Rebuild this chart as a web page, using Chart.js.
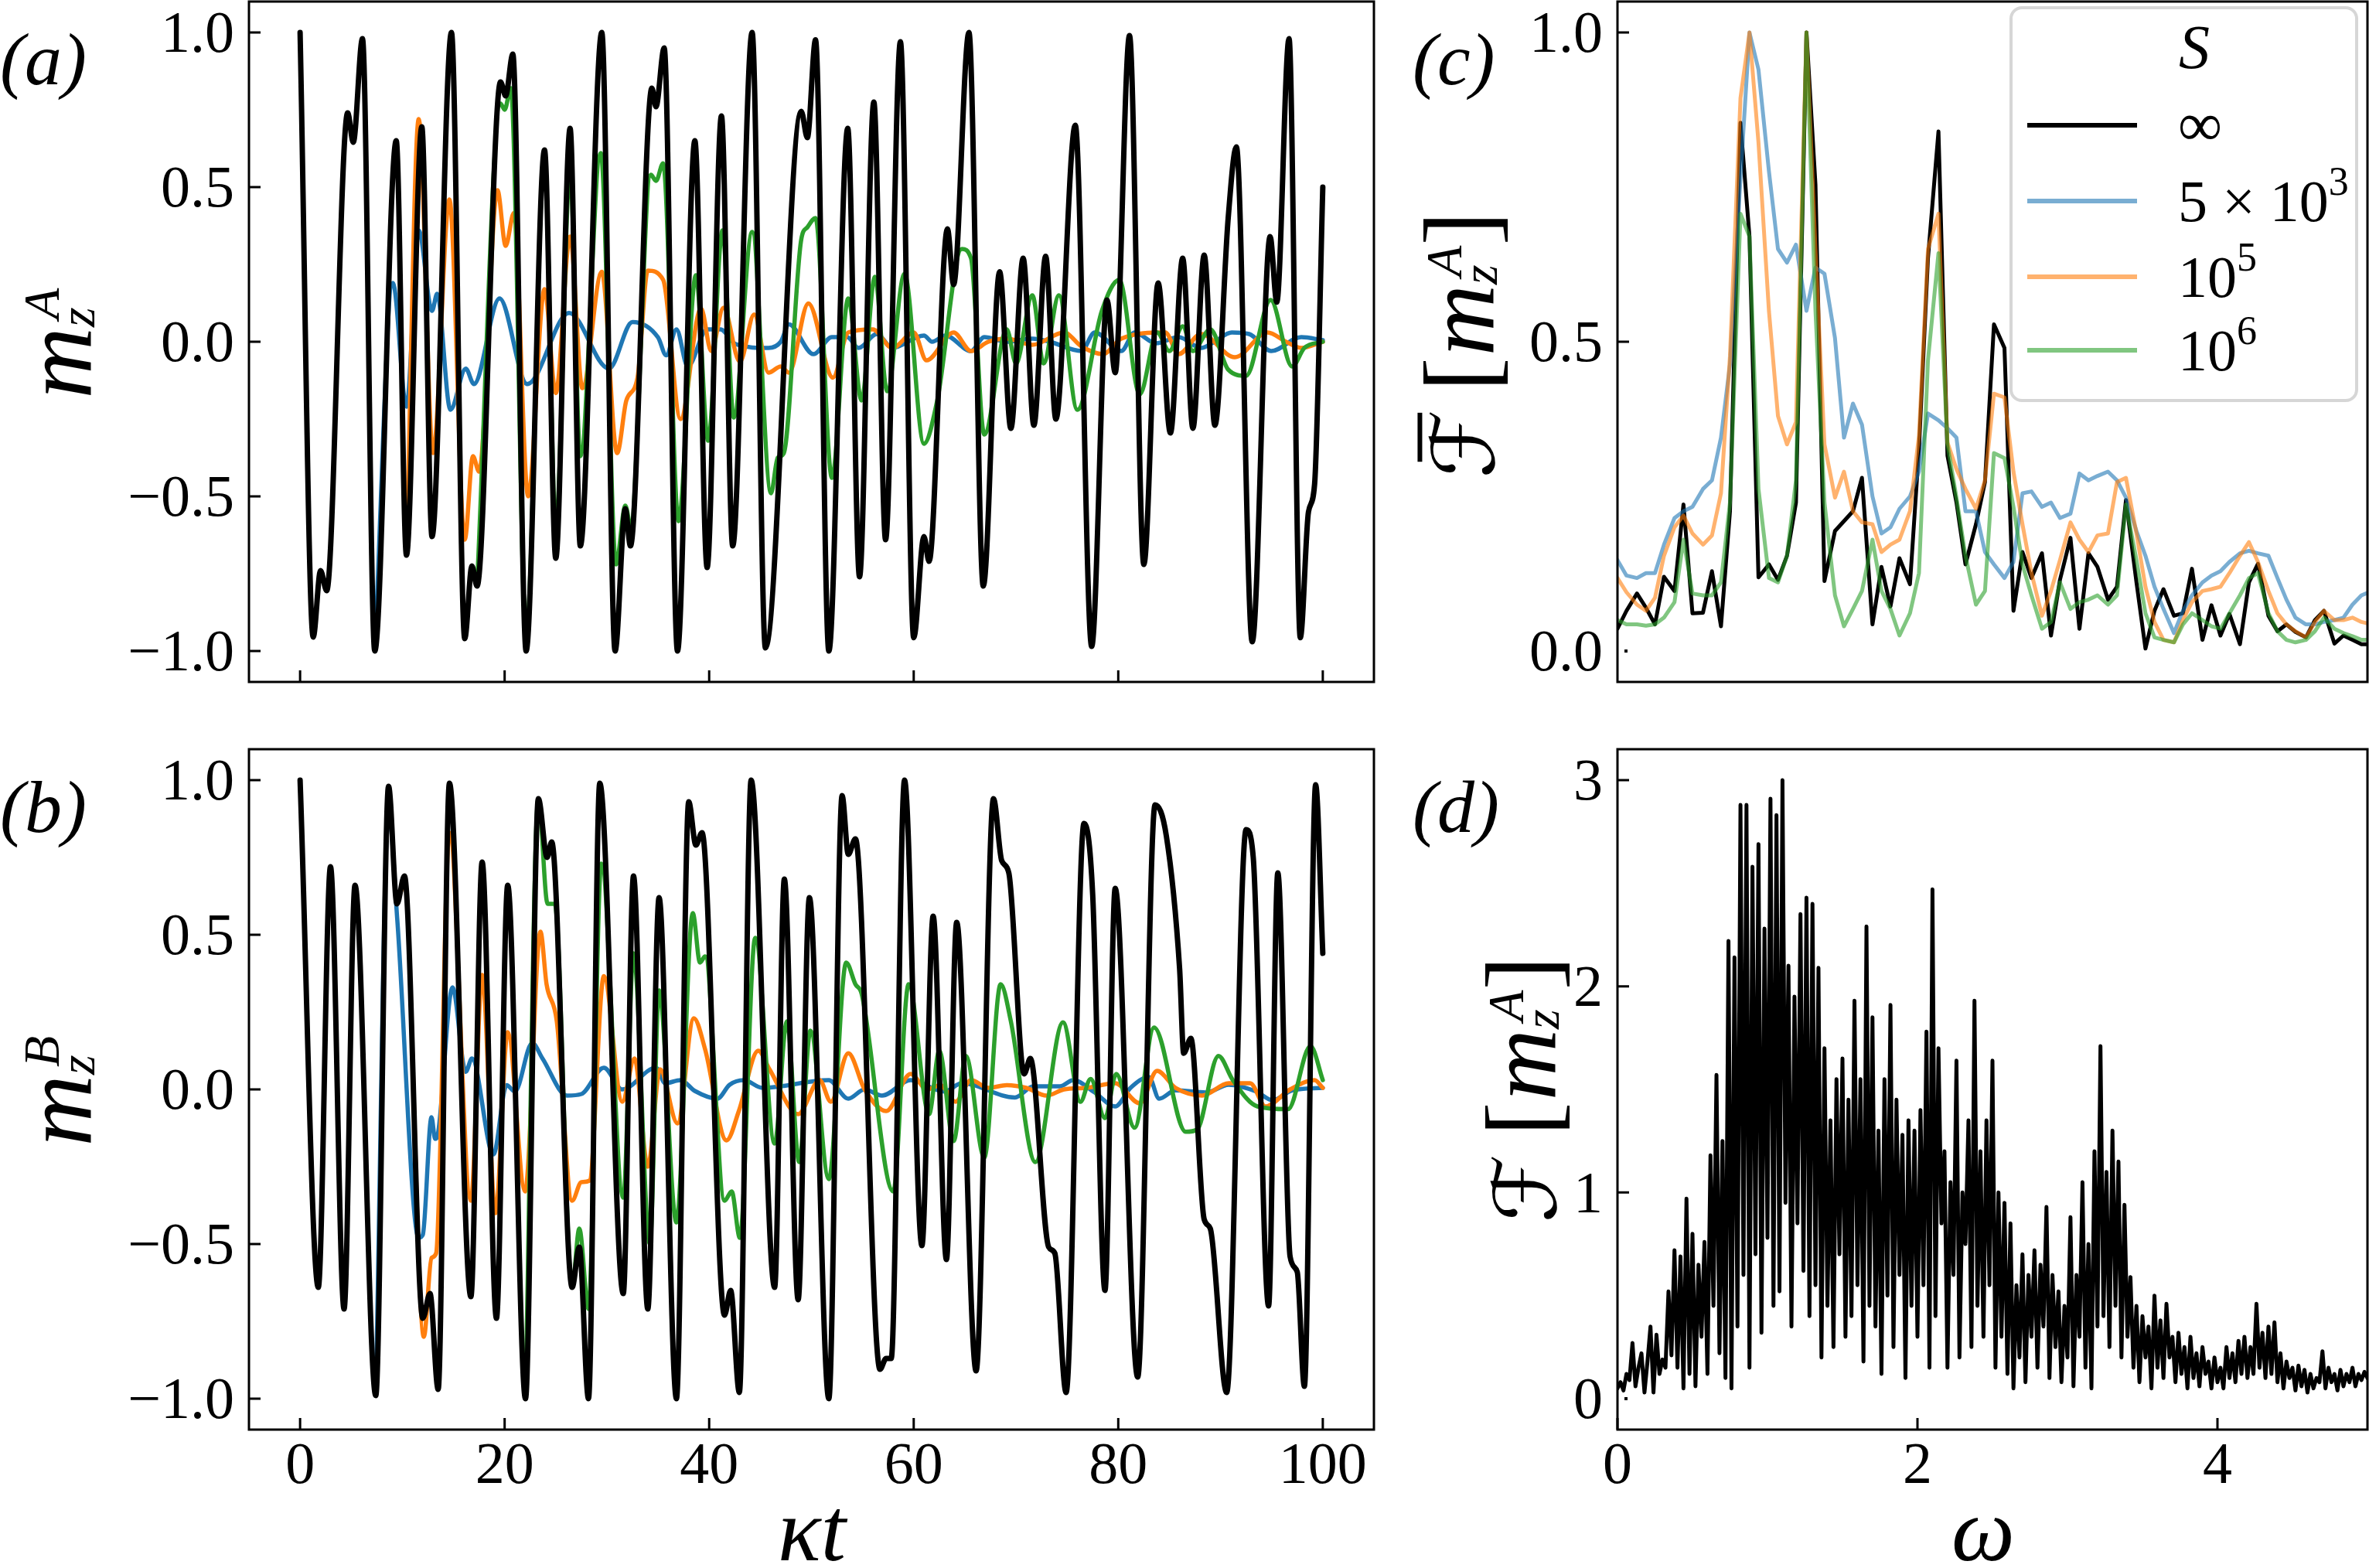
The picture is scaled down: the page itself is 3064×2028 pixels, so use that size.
<!DOCTYPE html>
<html>
<head>
<meta charset="utf-8">
<title>Sublattice magnetisation and spectra</title>
<script src="https://cdn.jsdelivr.net/npm/chart.js@4.4.1/dist/chart.umd.min.js"></script>
<style>
  html, body { margin: 0; padding: 0; background: #ffffff; }
  body { position: relative; width: 3064px; height: 2028px; overflow: hidden; }
  canvas { position: absolute; }
</style>
</head>
<body>
<canvas id="panelA" style="left:0px;top:0px"></canvas>
<canvas id="panelB" style="left:0px;top:960px"></canvas>
<canvas id="panelC" style="left:1800px;top:0px"></canvas>
<canvas id="panelD" style="left:1800px;top:960px"></canvas>
<script>
// tick values
const tTicks = [0, 20, 40, 60, 80, 100];
const mTicks = [-1, -0.5, 0, 0.5, 1];
const specTicks = [0, 0.5, 1];
const fftTicks = [0, 1, 2, 3];
const omegaTicks = [0, 2, 4];

// (a) m_z^A vs kappa t, [t, value]
const blackA = [[0,1.0],[1.28,-0.955],[2.0,-0.74],[2.6,-0.805],[4.65,0.74],[5.2,0.645],[6.1,0.98],[7.3,-1.0],[9.4,0.65],[10.4,-0.69],[11.9,0.695],[12.9,-0.63],[14.8,1.0],[16.1,-0.96],[16.8,-0.725],[17.3,-0.79],[19.6,0.84],[20.1,0.795],[20.8,0.93],[22.1,-1.0],[23.9,0.62],[25.0,-0.70],[26.4,0.69],[27.4,-0.66],[29.5,1.0],[30.8,-1.0],[31.8,-0.54],[32.3,-0.66],[34.4,0.82],[34.8,0.76],[35.6,0.95],[36.9,-1.0],[38.6,0.65],[39.8,-0.73],[41.2,0.73],[42.3,-0.66],[44.2,1.0],[45.5,-0.99],[49.0,0.745],[49.6,0.66],[50.4,0.976],[51.7,-1.0],[53.55,0.69],[54.7,-0.76],[56.1,0.775],[57.25,-0.64],[58.7,0.97],[60.0,-0.957],[61.0,-0.63],[61.5,-0.71],[63.3,0.365],[63.9,0.185],[65.4,1.0],[66.8,-0.79],[68.4,0.226],[69.5,-0.28],[70.7,0.27],[71.75,-0.27],[72.9,0.276],[73.9,-0.25],[75.8,0.70],[77.4,-0.985],[78.9,0.135],[79.7,-0.10],[81.1,0.99],[82.5,-0.72],[83.9,0.19],[85.1,-0.295],[86.3,0.27],[87.3,-0.28],[88.4,0.28],[89.45,-0.27],[90.75,0.40],[91.55,0.63],[93.1,-0.97],[94.85,0.34],[95.5,0.128],[96.7,0.98],[97.8,-0.957],[98.6,-0.55],[99.2,-0.46],[100,0.50]];
const blueA = [[7.3,-1.0],[9.07,0.19],[10.4,-0.21],[11.6,0.36],[12.9,0.10],[13.4,0.155],[14.7,-0.22],[16.2,-0.087],[17.0,-0.137],[19.5,0.14],[22.2,-0.137],[26.3,0.093],[30.2,-0.087],[32.5,0.064],[35.0,0.014],[35.8,-0.044],[36.8,0.04],[37.9,-0.08],[39.8,0.04],[41.1,0.04],[42.6,-0.008],[45.8,-0.02],[47.0,0.0],[47.8,0.056],[50.2,-0.04],[52.0,0.015],[53.5,0.015],[54.6,-0.02],[56.4,0.025],[57.9,-0.02],[61.0,0.02],[61.8,0.0],[63.1,0.02],[65.6,-0.03],[66.9,0.015],[69.1,0.0],[71.6,0.01],[73.3,0.0],[76.4,-0.03],[77.7,0.03],[80.3,-0.03],[81.6,0.03],[83.7,-0.005],[85.9,0.015],[88.1,-0.02],[89.4,0.0],[91.1,0.03],[92.8,0.025],[94.96,-0.03],[97.9,0.015],[100,0.005]];
const orangeA = [[10.4,-0.69],[11.6,0.72],[13.0,-0.36],[14.6,0.46],[16.1,-0.64],[16.9,-0.37],[17.5,-0.42],[19.3,0.49],[20.1,0.31],[20.9,0.416],[22.3,-0.50],[23.9,0.17],[25.0,-0.166],[26.4,0.34],[27.6,-0.15],[29.5,0.226],[31.0,-0.36],[31.9,-0.19],[33.0,-0.115],[34.0,0.23],[35.5,0.20],[37.2,-0.25],[39.2,0.108],[40.2,-0.03],[41.4,0.11],[43.0,-0.065],[44.4,0.088],[45.8,-0.10],[47.0,-0.08],[47.8,-0.10],[49.7,0.124],[52.1,-0.116],[53.6,0.03],[56.0,0.04],[57.9,-0.02],[60.0,0.03],[61.25,-0.06],[63.9,0.03],[65.6,-0.03],[67.3,0.0],[69.1,0.01],[71.6,-0.01],[74.7,0.03],[76.4,-0.015],[78.5,-0.04],[80.3,0.01],[84.6,0.03],[85.9,-0.04],[88.1,0.025],[91.4,-0.05],[94.6,0.03],[96.4,0.0],[97.9,-0.02],[100,0.0]];
const greenA = [[17.3,-0.79],[19.6,0.77],[20.0,0.75],[20.6,0.82],[22.1,-0.95],[23.9,0.6],[25.0,-0.6],[26.4,0.55],[27.4,-0.37],[29.4,0.61],[30.9,-0.72],[31.8,-0.53],[32.3,-0.59],[34.3,0.54],[34.8,0.52],[35.5,0.577],[37.0,-0.58],[38.7,0.215],[39.9,-0.32],[41.3,0.36],[42.4,-0.245],[44.2,0.355],[46.05,-0.49],[46.7,-0.375],[47.3,-0.36],[49.0,0.33],[49.6,0.37],[50.4,0.40],[52.0,-0.44],[53.6,0.14],[54.9,-0.19],[56.2,0.21],[57.4,-0.16],[59.1,0.22],[61.0,-0.33],[62.3,-0.19],[64.7,0.30],[65.6,0.27],[66.9,-0.30],[69.1,0.04],[70.0,-0.07],[71.6,0.15],[72.7,-0.07],[74.2,0.15],[76.0,-0.22],[78.4,0.1],[80.1,0.2],[82.1,-0.17],[83.8,0.03],[85.0,-0.03],[86.3,0.05],[87.3,-0.03],[89.0,0.04],[90.75,-0.09],[92.5,-0.11],[94.9,0.135],[97.0,-0.08],[98.2,-0.02],[100,0.0]];

// (b) m_z^B vs kappa t, [t, value]
const blackB = [[0,1.0],[1.78,-0.64],[2.97,0.72],[4.3,-0.71],[5.37,0.66],[7.4,-0.99],[8.65,0.98],[9.47,0.60],[10.2,0.69],[12.0,-0.74],[12.7,-0.66],[13.5,-0.97],[14.6,0.99],[16.7,-0.67],[17.8,0.735],[19.2,-0.74],[20.3,0.66],[22.04,-1.0],[23.3,0.94],[24.15,0.75],[24.6,0.80],[26.6,-0.64],[27.3,-0.51],[28.2,-1.0],[29.3,0.99],[31.6,-0.66],[32.6,0.69],[34.0,-0.71],[35.1,0.62],[36.8,-1.0],[38.0,0.93],[38.7,0.79],[39.3,0.83],[41.5,-0.73],[42.1,-0.65],[42.95,-0.98],[44.1,1.0],[46.4,-0.64],[47.35,0.68],[48.7,-0.68],[49.8,0.62],[51.7,-1.0],[53.0,0.95],[53.6,0.76],[54.3,0.81],[56.7,-0.905],[57.3,-0.87],[57.8,-0.87],[59.1,1.0],[60.8,-0.505],[61.9,0.56],[63.2,-0.55],[64.2,0.54],[66.1,-0.91],[67.8,0.94],[68.6,0.74],[69.3,0.70],[70.8,0.05],[71.4,0.10],[73.2,-0.51],[73.8,-0.53],[74.9,-0.98],[76.65,0.86],[77.5,0.63],[78.7,-0.65],[79.7,0.65],[81.9,-0.93],[83.6,0.92],[84.7,0.82],[86.0,0.39],[86.4,0.117],[87.1,0.165],[88.4,-0.42],[89.0,-0.45],[90.6,-0.98],[92.5,0.84],[93.2,0.75],[94.7,-0.70],[95.6,0.70],[96.8,-0.54],[97.5,-0.59],[98.2,-0.96],[99.3,0.985],[100,0.44]];
const blueB = [[7.4,-0.99],[8.65,0.9],[9.5,0.55],[11.6,-0.48],[12.0,-0.47],[12.85,-0.09],[13.2,-0.16],[13.5,-0.14],[14.9,0.33],[16.2,0.057],[16.8,0.10],[18.9,-0.21],[20.2,0.014],[21.0,-0.007],[22.7,0.15],[23.7,0.10],[26.1,-0.02],[27.5,-0.015],[29.7,0.07],[31.5,0.0],[34.8,0.07],[35.7,0.02],[37.2,0.03],[38.6,-0.005],[40.8,-0.03],[42.0,0.015],[43.4,0.03],[45.2,0.005],[51.7,0.03],[53.6,-0.03],[55.2,0.0],[56.9,-0.02],[59.7,0.03],[63.0,-0.007],[64.7,0.02],[69.9,-0.026],[71.7,0.01],[74.3,0.01],[75.6,0.03],[77.7,-0.01],[79.7,-0.055],[81.2,0.005],[83.0,0.04],[84.0,-0.03],[85.6,-0.003],[88.6,-0.01],[90.8,0.015],[93.5,-0.007],[95.1,-0.035],[97.0,-0.003],[100,0.005]];
const orangeB = [[9.47,0.60],[10.2,0.66],[12.1,-0.80],[12.85,-0.545],[13.3,-0.53],[14.6,0.83],[16.7,-0.36],[17.8,0.37],[19.1,-0.40],[20.3,0.185],[22.0,-0.33],[23.5,0.51],[24.1,0.34],[25.1,0.22],[26.6,-0.36],[27.5,-0.30],[28.3,-0.295],[29.7,0.366],[31.5,-0.04],[32.7,0.10],[34.0,-0.25],[35.2,0.065],[36.9,-0.11],[38.5,0.23],[39.6,0.13],[41.7,-0.165],[42.9,-0.07],[44.8,0.125],[45.9,0.065],[48.7,-0.08],[50.8,0.03],[51.9,-0.04],[53.6,0.117],[55.2,0.0],[57.3,-0.07],[59.7,0.05],[61.3,0.0],[62.6,0.014],[64.1,-0.04],[65.6,0.03],[67.3,0.005],[69.1,0.014],[71.0,0.005],[73.0,-0.02],[74.7,0.0],[76.9,0.005],[79.7,0.02],[82.1,-0.045],[83.8,0.06],[85.6,0.005],[88.2,-0.02],[90.8,0.02],[92.9,0.02],[94.4,-0.055],[96.8,0.0],[99.2,0.03],[100,0.005]];
const greenB = [[22.04,-1.0],[23.3,0.94],[24.2,0.60],[24.9,0.60],[26.6,-0.64],[27.3,-0.45],[28.2,-0.71],[29.45,0.73],[31.6,-0.35],[32.6,0.44],[34.2,-0.50],[35.1,0.32],[36.8,-0.43],[38.4,0.57],[39.1,0.41],[39.6,0.43],[41.5,-0.36],[42.2,-0.33],[43.0,-0.48],[44.5,0.49],[46.4,-0.175],[47.6,0.22],[48.8,-0.235],[49.9,0.19],[51.7,-0.29],[53.4,0.41],[54.3,0.34],[54.9,0.31],[58.0,-0.33],[59.5,0.34],[61.5,-0.08],[62.5,0.125],[63.9,-0.167],[65.1,0.108],[66.9,-0.22],[68.5,0.34],[69.5,0.22],[71.9,-0.235],[74.6,0.217],[76.3,-0.04],[77.3,0.034],[78.7,-0.093],[79.8,0.05],[81.6,-0.124],[83.5,0.20],[86.6,-0.137],[87.7,-0.13],[89.8,0.108],[91.2,0.03],[93.6,-0.055],[96.6,-0.064],[98.8,0.14],[100,0.03]];

// (c) normalised spectra, sampled on the omega grid below
const omegaC = [0.00,0.06,0.13,0.19,0.25,0.31,0.38,0.44,0.50,0.57,0.63,0.69,0.75,0.82,0.88,0.94,1.01,1.07,1.13,1.19,1.26,1.32,1.38,1.45,1.51,1.57,1.63,1.70,1.76,1.82,1.88,1.95,2.01,2.07,2.14,2.20,2.26,2.32,2.39,2.45,2.51,2.58,2.64,2.70,2.76,2.83,2.89,2.95,3.02,3.08,3.14,3.20,3.27,3.33,3.39,3.46,3.52,3.58,3.64,3.71,3.77,3.83,3.90,3.96,4.02,4.08,4.15,4.21,4.27,4.34,4.40,4.46,4.52,4.59,4.65,4.71,4.78,4.84,4.90,4.96,5.03];
const specInf = [0.036,0.065,0.093,0.07,0.043,0.12,0.097,0.237,0.061,0.062,0.129,0.04,0.226,0.854,0.67,0.119,0.14,0.115,0.154,0.24,1.0,0.754,0.113,0.194,0.21,0.226,0.28,0.043,0.136,0.072,0.15,0.108,0.327,0.635,0.84,0.316,0.24,0.14,0.205,0.273,0.528,0.49,0.065,0.16,0.118,0.158,0.025,0.115,0.183,0.036,0.158,0.136,0.083,0.104,0.244,0.111,0.004,0.065,0.10,0.057,0.061,0.133,0.018,0.074,0.025,0.06,0.011,0.111,0.141,0.057,0.032,0.043,0.031,0.022,0.05,0.065,0.012,0.025,0.018,0.011,0.011];
const spec5e3 = [0.147,0.122,0.118,0.126,0.126,0.172,0.215,0.226,0.233,0.262,0.276,0.345,0.463,0.765,1.0,0.94,0.775,0.65,0.628,0.657,0.55,0.62,0.61,0.506,0.345,0.40,0.366,0.25,0.19,0.20,0.23,0.25,0.29,0.384,0.373,0.36,0.345,0.226,0.226,0.16,0.14,0.118,0.144,0.255,0.258,0.233,0.24,0.215,0.222,0.287,0.276,0.283,0.29,0.276,0.248,0.194,0.154,0.104,0.068,0.029,0.065,0.09,0.111,0.122,0.129,0.144,0.158,0.162,0.158,0.154,0.118,0.083,0.054,0.043,0.043,0.047,0.05,0.054,0.075,0.09,0.097];
const spec1e5 = [0.118,0.095,0.075,0.065,0.086,0.154,0.20,0.219,0.19,0.172,0.187,0.255,0.477,0.894,1.0,0.822,0.549,0.38,0.334,0.37,1.0,0.65,0.334,0.248,0.29,0.226,0.208,0.205,0.16,0.172,0.18,0.226,0.348,0.65,0.707,0.337,0.294,0.262,0.23,0.276,0.416,0.41,0.29,0.205,0.126,0.057,0.097,0.147,0.208,0.18,0.16,0.187,0.19,0.273,0.28,0.19,0.104,0.047,0.018,0.014,0.05,0.079,0.097,0.10,0.104,0.126,0.154,0.176,0.144,0.097,0.061,0.043,0.032,0.022,0.047,0.065,0.05,0.05,0.054,0.047,0.043];
const spec1e6 = [0.05,0.043,0.043,0.041,0.043,0.054,0.079,0.18,0.093,0.09,0.09,0.111,0.24,0.707,0.67,0.262,0.118,0.111,0.154,0.276,1.0,0.55,0.24,0.09,0.04,0.068,0.097,0.18,0.097,0.068,0.025,0.061,0.126,0.47,0.643,0.334,0.248,0.154,0.075,0.097,0.32,0.312,0.233,0.14,0.09,0.036,0.047,0.111,0.068,0.079,0.083,0.09,0.075,0.09,0.237,0.147,0.061,0.022,0.018,0.014,0.043,0.061,0.05,0.04,0.036,0.061,0.09,0.118,0.126,0.061,0.032,0.018,0.014,0.018,0.032,0.054,0.036,0.029,0.024,0.018,0.018];

// (d) raw spectrum of m_z^A for S = infinity
const omegaD = [0,0.02,0.04,0.06,0.08,0.1,0.12,0.14,0.16,0.18,
0.2,0.22,0.24,0.26,0.28,0.3,0.32,0.34,0.36,0.38,
0.4,0.42,0.44,0.46,0.48,0.5,0.52,0.54,0.56,0.58,
0.6,0.62,0.64,0.66,0.68,0.7,0.72,0.74,0.76,0.78,
0.8,0.82,0.84,0.86,0.88,0.9,0.92,0.94,0.96,0.98,
1,1.02,1.04,1.06,1.08,1.1,1.12,1.14,1.16,1.18,
1.2,1.22,1.24,1.26,1.28,1.3,1.32,1.34,1.36,1.38,
1.4,1.42,1.44,1.46,1.48,1.5,1.52,1.54,1.56,1.58,
1.6,1.62,1.64,1.66,1.68,1.7,1.72,1.74,1.76,1.78,
1.8,1.82,1.84,1.86,1.88,1.9,1.92,1.94,1.96,1.98,
2,2.02,2.04,2.06,2.08,2.1,2.12,2.14,2.16,2.18,
2.2,2.22,2.24,2.26,2.28,2.3,2.32,2.34,2.36,2.38,
2.4,2.42,2.44,2.46,2.48,2.5,2.52,2.54,2.56,2.58,
2.6,2.62,2.64,2.66,2.68,2.7,2.72,2.74,2.76,2.78,
2.8,2.82,2.84,2.86,2.88,2.9,2.92,2.94,2.96,2.98,
3,3.02,3.04,3.06,3.08,3.1,3.12,3.14,3.16,3.18,
3.2,3.22,3.24,3.26,3.28,3.3,3.32,3.34,3.36,3.38,
3.4,3.42,3.44,3.46,3.48,3.5,3.52,3.54,3.56,3.58,
3.6,3.62,3.64,3.66,3.68,3.7,3.72,3.74,3.76,3.78,
3.8,3.82,3.84,3.86,3.88,3.9,3.92,3.94,3.96,3.98,
4,4.02,4.04,4.06,4.08,4.1,4.12,4.14,4.16,4.18,
4.2,4.22,4.24,4.26,4.28,4.3,4.32,4.34,4.36,4.38,
4.4,4.42,4.44,4.46,4.48,4.5,4.52,4.54,4.56,4.58,
4.6,4.62,4.64,4.66,4.68,4.7,4.72,4.74,4.76,4.78,
4.8,4.82,4.84,4.86,4.88,4.9,4.92,4.94,4.96,4.98,
5];
const fftA = [0.05,0.08,0.04,0.12,0.09,0.27,0.06,0.15,0.22,0.03,
0.18,0.35,0.03,0.31,0.12,0.19,0.15,0.52,0.21,0.72,
0.15,0.69,0.05,0.97,0.12,0.80,0.06,0.65,0.30,0.76,
0.12,1.18,0.45,1.57,0.22,1.25,0.10,2.22,0.05,2.14,
0.35,2.88,0.60,2.88,0.15,2.58,0.70,2.69,0.32,2.28,
0.78,2.91,0.45,2.83,0.52,3.00,0.95,2.10,0.35,1.95,
0.85,2.35,0.62,2.43,0.40,2.40,0.55,2.09,0.20,1.70,
0.45,1.35,0.25,1.55,0.70,1.65,0.30,1.45,0.40,1.93,
0.55,1.55,0.18,2.29,0.45,1.85,0.35,1.30,0.12,1.55,
0.50,1.91,0.25,1.45,0.60,1.28,0.10,1.35,0.45,1.30,
0.30,1.40,0.55,1.78,0.15,2.47,0.40,1.70,0.85,1.20,
0.15,1.05,0.60,1.64,0.20,1.00,0.75,1.35,0.25,1.93,
0.45,1.20,0.30,1.35,0.55,1.64,0.15,1.00,0.30,0.95,
0.12,0.85,0.05,0.55,0.20,0.70,0.08,0.60,0.30,0.72,
0.15,0.65,0.35,0.93,0.10,0.60,0.25,0.52,0.08,0.45,
0.20,0.88,0.06,0.60,0.30,1.05,0.15,0.75,0.05,1.20,
0.35,1.71,0.40,1.10,0.25,1.30,0.45,1.15,0.20,0.94,
0.30,0.59,0.15,0.45,0.08,0.40,0.20,0.35,0.05,0.50,
0.15,0.38,0.10,0.46,0.20,0.30,0.08,0.32,0.12,0.25,
0.05,0.30,0.10,0.22,0.06,0.25,0.12,0.18,0.05,0.20,
0.08,0.15,0.05,0.25,0.10,0.22,0.08,0.28,0.12,0.30,
0.10,0.25,0.12,0.46,0.15,0.32,0.10,0.35,0.12,0.37,
0.08,0.22,0.05,0.18,0.10,0.15,0.04,0.16,0.06,0.14,
0.03,0.12,0.05,0.10,0.08,0.23,0.05,0.15,0.08,0.12,
0.04,0.14,0.06,0.12,0.08,0.15,0.06,0.12,0.09,0.13,
0.10];

const SERIF = '"Liberation Serif", "Times New Roman", serif';
const SCRIPT = '"DejaVu Serif", "DejaVu Sans", serif';
const BLUE = '#1f77b4', ORANGE = '#ff7f0e', GREEN = '#2ca02c';
const TICK_PX = 76;

const pairs = arr => arr.map(([x, y]) => ({ x, y }));
const onGrid = (xs, ys) => xs.map((x, i) => ({ x, y: ys[i] }));
const fmt1 = v => (v < 0 ? '\u2212' : '') + Math.abs(v).toFixed(1);
const fmt0 = v => String(v);

function setup(id, w, h) {
  const c = document.getElementById(id);
  c.width = w; c.height = h;
  c.style.width = w + 'px'; c.style.height = h + 'px';
  return c;
}

// chart.js axes only supply the mapping; labels and marks are drawn by the decor plugin
function xAxis(min, max, height) {
  return {
    type: 'linear', min, max,
    grid: { display: false, drawTicks: false }, border: { display: false },
    ticks: { display: false },
    afterFit: s => { s.height = height; }
  };
}
function yAxis(min, max, width) {
  return {
    type: 'linear', min, max,
    grid: { display: false, drawTicks: false }, border: { display: false },
    ticks: { display: false },
    afterFit: s => { s.width = width; }
  };
}

// small math-text helpers: a run is a list of pieces drawn left to right
function fontOf(p) { return (p.italic ? 'italic ' : '') + p.size + 'px ' + (p.family || SERIF); }
function pieceWidth(ctx, p) {
  if (p.sub != null) {
    ctx.font = fontOf({ italic: true, size: p.size });
    return Math.max(ctx.measureText(p.sub).width, ctx.measureText(p.sup).width + (p.supDx || 0));
  }
  ctx.font = fontOf(p);
  return ctx.measureText(p.text).width;
}
function runWidth(ctx, run) {
  return run.reduce((w, p) => w + pieceWidth(ctx, p) + (p.gap || 0), 0);
}
function drawRun(ctx, run, x, y) {
  for (const p of run) {
    const w = pieceWidth(ctx, p);
    if (p.sub != null) {
      ctx.fillText(p.sub, x, y + p.subDy);
      ctx.fillText(p.sup, x + (p.supDx || 0), y + p.supDy);
    } else {
      ctx.fillText(p.text, x, y + (p.dy || 0));
      if (p.bar) ctx.fillRect(x + w * 0.24, y - p.size * 0.88, w * 0.72, 6);
    }
    x += w + (p.gap || 0);
  }
}
function drawRotated(ctx, run, bx, cy) {
  ctx.save();
  ctx.translate(bx, cy);
  ctx.rotate(-Math.PI / 2);
  drawRun(ctx, run, -runWidth(ctx, run) / 2, 0);
  ctx.restore();
}

const mSym = sup => [
  { text: 'm', size: 128, italic: true, gap: 0 },
  { sub: 'z', sup: sup, size: 66, subDy: 4, supDy: -42, supDx: 10 }
];
const bracketed = bar => [
  { text: '\u2131', size: 112, family: SCRIPT, bar: bar, gap: 24 },
  { text: '[', size: 132, gap: 2 },
  ...mSym('A'),
  { text: ']', size: 132, dy: 0 }
];
bracketed(false)[3].gap = 0;

const legendRows = [
  [{ text: '\u221E', size: 80 }],
  [{ text: '5 \u00D7 10', size: 76 }, { text: '3', size: 52, dy: -34 }],
  [{ text: '10', size: 76 }, { text: '5', size: 52, dy: -34 }],
  [{ text: '10', size: 76 }, { text: '6', size: 52, dy: -34 }]
];

const decor = {
  id: 'decor',
  afterDraw(chart, args, o) {
    const { ctx, chartArea: a, scales: { x, y } } = chart;
    ctx.save();
    ctx.strokeStyle = '#000';
    ctx.fillStyle = '#000';
    ctx.lineWidth = 3;
    ctx.strokeRect(a.left, a.top, a.right - a.left, a.bottom - a.top);

    // inward tick marks
    ctx.beginPath();
    (o.yMarks || []).forEach(v => {
      const py = y.getPixelForValue(v);
      ctx.moveTo(a.left, py); ctx.lineTo(a.left + 15, py);
    });
    (o.xMarks || []).forEach(v => {
      const px = x.getPixelForValue(v);
      ctx.moveTo(px, a.bottom); ctx.lineTo(px, a.bottom - 15);
    });
    ctx.stroke();
    if (o.zeroDot) ctx.fillRect(a.left + 9, y.getPixelForValue(0) - 2, 4, 4);

    // tick labels
    ctx.font = TICK_PX + 'px ' + SERIF;
    ctx.textBaseline = 'alphabetic';
    ctx.textAlign = 'right';
    o.yLabels[0].forEach(v => ctx.fillText(o.yLabels[1](v), a.left - 19, y.getPixelForValue(v) + TICK_PX * 0.335));
    if (o.xLabels) {
      ctx.textAlign = 'center';
      o.xLabels[0].forEach(v => ctx.fillText(o.xLabels[1](v), x.getPixelForValue(v), a.bottom + 18 + TICK_PX * 0.67));
    }

    // panel letter
    ctx.textAlign = 'left';
    ctx.textBaseline = 'middle';
    ctx.font = 'italic 96px ' + SERIF;
    ctx.fillText(o.letter[0], o.letter[1], o.letter[2]);

    // axis titles
    ctx.textBaseline = 'alphabetic';
    drawRotated(ctx, o.yLabel[0], o.yLabel[1], o.yLabel[2]);
    if (o.xLabel) {
      ctx.font = 'italic 116px ' + SERIF;
      ctx.textAlign = 'center';
      ctx.fillText(o.xLabel[0], o.xLabel[1], o.xLabel[2]);
      ctx.textAlign = 'left';
    }

    if (o.legend) {
      const L = o.legend;
      ctx.beginPath();
      ctx.roundRect(L.x, L.y, L.w, L.h, 14);
      ctx.fillStyle = 'rgba(255,255,255,0.8)';
      ctx.fill();
      ctx.strokeStyle = 'rgba(204,204,204,0.8)';
      ctx.lineWidth = 4;
      ctx.stroke();
      ctx.fillStyle = '#000';
      ctx.font = 'italic 80px ' + SERIF;
      ctx.textAlign = 'center';
      ctx.fillText('S', L.titleX, L.titleY);
      ctx.textAlign = 'left';
      chart.data.datasets.forEach((ds, i) => {
        const ry = L.rows[i];
        ctx.strokeStyle = ds.borderColor;
        ctx.lineWidth = 6;
        ctx.beginPath();
        ctx.moveTo(L.hx0, ry); ctx.lineTo(L.hx1, ry);
        ctx.stroke();
        ctx.fillStyle = '#000';
        drawRun(ctx, legendRows[i], L.tx, ry + 26);
      });
    }
    ctx.restore();
  }
};

function tsDataset(pts, color, width, order) {
  return { data: pairs(pts), borderColor: color, borderWidth: width, pointRadius: 0,
           cubicInterpolationMode: 'monotone', order: order };
}
function specDataset(ys, color, width, order) {
  return { data: onGrid(omegaC, ys), borderColor: color, borderWidth: width, pointRadius: 0,
           tension: 0, order: order };
}

const common = {
  responsive: false, animation: false, devicePixelRatio: 1,
  plugins: { legend: { display: false }, tooltip: { enabled: false } },
  elements: { line: { borderJoinStyle: 'round', borderCapStyle: 'round' } }
};

// (a)
new Chart(setup('panelA', 1800, 960), {
  type: 'line',
  data: { datasets: [
    tsDataset(blueA, BLUE, 5.5, 3),
    tsDataset(orangeA, ORANGE, 5.5, 2),
    tsDataset(greenA, GREEN, 5.5, 1),
    tsDataset(blackA, '#000', 7, 0)
  ] },
  options: { ...common,
    layout: { padding: { top: 2, right: 23, left: 0, bottom: 0 } },
    scales: { x: xAxis(-5, 105, 78), y: yAxis(-1.1, 1.1, 322) },
    plugins: { ...common.plugins, decor: {
      yMarks: mTicks, xMarks: tTicks, yLabels: [mTicks, fmt1],
      letter: ['(a)', 0, 84], yLabel: [mSym('A'), 118, 444] } } },
  plugins: [decor]
});

// (b)
new Chart(setup('panelB', 1800, 1068), {
  type: 'line',
  data: { datasets: [
    tsDataset(blueB, BLUE, 5.5, 3),
    tsDataset(orangeB, ORANGE, 5.5, 2),
    tsDataset(greenB, GREEN, 5.5, 1),
    tsDataset(blackB, '#000', 7, 0)
  ] },
  options: { ...common,
    layout: { padding: { top: 9, right: 23, left: 0, bottom: 0 } },
    scales: { x: xAxis(-5, 105, 179), y: yAxis(-1.1, 1.1, 322) },
    plugins: { ...common.plugins, decor: {
      yMarks: mTicks, xMarks: tTicks, yLabels: [mTicks, fmt1], xLabels: [tTicks, fmt0],
      letter: ['(b)', 0, 91], yLabel: [mSym('B'), 118, 451],
      xLabel: ['\u03BAt', 1050, 1058] } } },
  plugins: [decor]
});

// (c)
new Chart(setup('panelC', 1264, 960), {
  type: 'line',
  data: { datasets: [
    specDataset(specInf, '#000', 5, 3),
    specDataset(spec5e3, 'rgba(31,119,180,0.6)', 5, 2),
    specDataset(spec1e5, 'rgba(255,127,14,0.6)', 5, 1),
    specDataset(spec1e6, 'rgba(44,160,44,0.6)', 5, 0)
  ] },
  options: { ...common,
    layout: { padding: { top: 2, right: 2, left: 0, bottom: 0 } },
    scales: { x: xAxis(0, 5, 78), y: yAxis(-0.05, 1.05, 292) },
    plugins: { ...common.plugins, decor: {
      yMarks: [0.5, 1], zeroDot: true, yLabels: [specTicks, fmt1],
      letter: ['(c)', 27, 84], yLabel: [bracketed(true), 132, 446],
      legend: { x: 801, y: 10, w: 447, h: 508, titleX: 1038, titleY: 88,
                rows: [162, 260, 358, 453], hx0: 822, hx1: 964, tx: 1017 } } } },
  plugins: [decor]
});

// (d)
new Chart(setup('panelD', 1264, 1068), {
  type: 'line',
  data: { datasets: [
    { data: onGrid(omegaD, fftA), borderColor: '#000', borderWidth: 5, pointRadius: 0, tension: 0 }
  ] },
  options: { ...common,
    layout: { padding: { top: 9, right: 2, left: 0, bottom: 0 } },
    scales: { x: xAxis(0, 5, 179), y: yAxis(-0.15, 3.15, 292) },
    plugins: { ...common.plugins, decor: {
      yMarks: [1, 2, 3], xMarks: omegaTicks, zeroDot: true,
      yLabels: [fftTicks, fmt0], xLabels: [omegaTicks, fmt0],
      letter: ['(d)', 27, 91], yLabel: [bracketed(false), 212, 449],
      xLabel: ['\u03C9', 765, 1058] } } },
  plugins: [decor]
});
</script>
</body>
</html>
